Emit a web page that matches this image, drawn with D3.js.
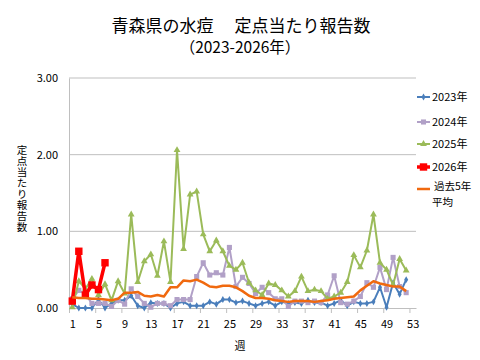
<!DOCTYPE html>
<html>
<head>
<meta charset="utf-8">
<script src="https://cdn.jsdelivr.net/npm/d3@7"></script>
<style>
  body { margin: 0; background: #fff; }
  text { font-family: "Noto Sans CJK JP", "Noto Sans", sans-serif; }
</style>
</head>
<body>
<div id="chart"></div>
<script>
// weekly values
var weeks = d3.range(1, 54);
var y2023 = [0.05,0,0,0,0.11,0,0.06,0.10,0.10,0.16,0.03,0,0.07,0.06,0.06,0,0.06,0.08,0.03,0.03,0.03,0.08,0.05,0.11,0.11,0.07,0.09,0.06,0.03,0.06,0.08,0.03,0.08,0.06,0.07,0.06,0.10,0.07,0.07,0.03,0.06,0.10,0.03,0.08,0.06,0.06,0.08,0.27,0.01,0.33,0.18,0.37];
var y2024 = [0.12,0.23,0.18,0.06,0.06,0.06,0.02,0.10,0.05,0.25,0.15,0.06,0.01,0.06,0.06,0.03,0.11,0.11,0.11,0.41,0.59,0.43,0.46,0.43,0.79,0.28,0.40,0.32,0.19,0.27,0.20,0.12,0.12,0.02,0.09,0.09,0.07,0.09,0.07,0.17,0.42,0.07,0.05,0.09,0.15,0.33,0.27,0.53,0.24,0.66,0.28,0.20];
var y2025 = [0.01,0.35,0.25,0.38,0.17,0.31,0.10,0.35,0.19,1.22,0.34,0.61,0.70,0.42,0.87,0.34,2.06,0.77,1.48,1.52,0.96,0.74,0.88,0.74,0.55,0.50,0.59,0.33,0.23,0.17,0.32,0.30,0.23,0.15,0.22,0.41,0.22,0.24,0.22,0.12,0.15,0.20,0.34,0.69,0.53,0.75,1.22,0.59,0.50,0.30,0.64,0.49];
var y2026 = [0.09,0.74,0.17,0.30,0.24,0.59];
var avg5 = [0.14,0.13,0.13,0.12,0.12,0.11,0.10,0.12,0.20,0.20,0.21,0.16,0.15,0.17,0.15,0.27,0.27,0.36,0.35,0.37,0.33,0.28,0.27,0.29,0.29,0.27,0.22,0.16,0.13,0.13,0.12,0.10,0.09,0.08,0.09,0.09,0.09,0.08,0.09,0.10,0.12,0.13,0.14,0.15,0.23,0.29,0.35,0.32,0.30,0.28,0.28,0.22];
var xLabels = d3.range(1, 54, 4);
var yTicks = [0, 1, 2, 3];

var width = 480,
    height = 360;
var plotLeft = 69, plotRight = 416, plotTop = 78, plotBottom = 308;

var svg = d3.select("#chart").append("svg")
    .attr("width", width)
    .attr("height", height);

var x = d3.scaleLinear().domain([0.5, 53.5]).range([plotLeft, plotRight]);
var y = d3.scaleLinear().domain([0, 3]).range([plotBottom, plotTop]);

// Title
svg.append("text")
    .attr("x", 241).attr("y", 32)
    .attr("text-anchor", "middle")
    .attr("font-size", 17)
    .style("white-space", "pre")
    .text("青森県の水痘　 定点当たり報告数");
svg.append("text")
    .attr("x", 240).attr("y", 53)
    .attr("text-anchor", "middle")
    .attr("font-size", 15.5)
    .text("（2023-2026年）");

// gridlines
svg.append("g")
    .selectAll("line")
    .data(yTicks.slice(1))
    .enter().append("line")
    .attr("x1", plotLeft).attr("x2", plotRight)
    .attr("y1", function(d) { return y(d); })
    .attr("y2", function(d) { return y(d); })
    .attr("stroke", "#bfbfbf")
    .attr("stroke-width", 1);

// y axis
var yAxis = svg.append("g")
    .attr("transform", "translate(" + plotLeft + ",0)")
    .call(d3.axisLeft(y).tickValues(yTicks).tickSize(0).tickPadding(11)
        .tickFormat(d3.format(".2f")));
yAxis.select(".domain").attr("stroke", "#bfbfbf");
yAxis.selectAll("text").attr("font-size", 11).attr("fill", "#000");

// x axis: labels at weeks, tick marks on category borders
var xAxis = svg.append("g")
    .attr("transform", "translate(0," + plotBottom + ")")
    .call(d3.axisBottom(x).tickValues(xLabels).tickSize(0).tickPadding(12)
        .tickFormat(d3.format("d")));
xAxis.select(".domain").attr("stroke", "#bfbfbf");
xAxis.selectAll("text").attr("font-size", 11).attr("fill", "#000");

var xTicks = svg.append("g")
    .attr("transform", "translate(0," + plotBottom + ")")
    .call(d3.axisBottom(x).tickValues(d3.range(0.5, 54, 4)).tickSize(5).tickFormat(""));
xTicks.select(".domain").remove();
xTicks.selectAll("line").attr("stroke", "#bfbfbf");

// axis titles
svg.append("text")
    .attr("x", 240).attr("y", 350)
    .attr("text-anchor", "middle")
    .attr("font-size", 11)
    .text("週");
svg.append("text")
    .attr("x", 22).attr("y", 145)
    .attr("font-size", 10.5)
    .style("writing-mode", "vertical-rl")
    .style("text-orientation", "upright")
    .attr("letter-spacing", 0.5)
    .text("定点当たり報告数");

var line = d3.line()
    .x(function(d, i) { return x(weeks[i]); })
    .y(function(d) { return y(d); });

var series = [
    { name: "2023年", values: y2023, color: "#4a7ebb", width: 2, marker: "diamond", size: 14 },
    { name: "2024年", values: y2024, color: "#b1a0c7", width: 2, marker: "square", size: 26 },
    { name: "2025年", values: y2025, color: "#9bbb59", width: 2, marker: "triangle", size: 20 },
    { name: "2026年", values: y2026, color: "#ff0000", width: 3.5, marker: "square", size: 55 },
    { name: "過去5年", values: avg5, color: "#f0690f", width: 2.5, marker: null }
];

var symbols = { diamond: d3.symbolDiamond, square: d3.symbolSquare, triangle: d3.symbolTriangle };

series.forEach(function(s) {
    var g = svg.append("g");
    g.append("path")
        .datum(s.values)
        .attr("fill", "none")
        .attr("stroke", s.color)
        .attr("stroke-width", s.width)
        .attr("stroke-linejoin", "round")
        .attr("d", line);
    if (s.marker) {
        g.selectAll("path.m")
            .data(s.values)
            .enter().append("path")
            .attr("class", "m")
            .attr("transform", function(d, i) { return "translate(" + x(weeks[i]) + "," + y(d) + ")"; })
            .attr("d", d3.symbol().type(symbols[s.marker]).size(s.size))
            .attr("fill", s.color);
    }
});

// legend
var legendY = [97, 122, 144, 167, 189];
var legend = svg.append("g");
series.forEach(function(s, i) {
    var ly = legendY[i];
    legend.append("line")
        .attr("x1", 417).attr("x2", 430)
        .attr("y1", ly).attr("y2", ly)
        .attr("stroke", s.color)
        .attr("stroke-width", s.width);
    if (s.marker) {
        legend.append("path")
            .attr("transform", "translate(423.5," + ly + ")")
            .attr("d", d3.symbol().type(symbols[s.marker]).size(s.size))
            .attr("fill", s.color);
    }
    var t = legend.append("text")
        .attr("x", 432).attr("y", ly + 4)
        .attr("font-size", 11);
    if (i < 4) {
        t.text(s.name);
    } else {
        t.attr("x", 434).attr("y", ly + 1).attr("font-size", 10.5).text(s.name);
        legend.append("text")
            .attr("x", 432).attr("y", ly + 16.5)
            .attr("font-size", 10.5)
            .text("平均");
    }
});
</script>
</body>
</html>
